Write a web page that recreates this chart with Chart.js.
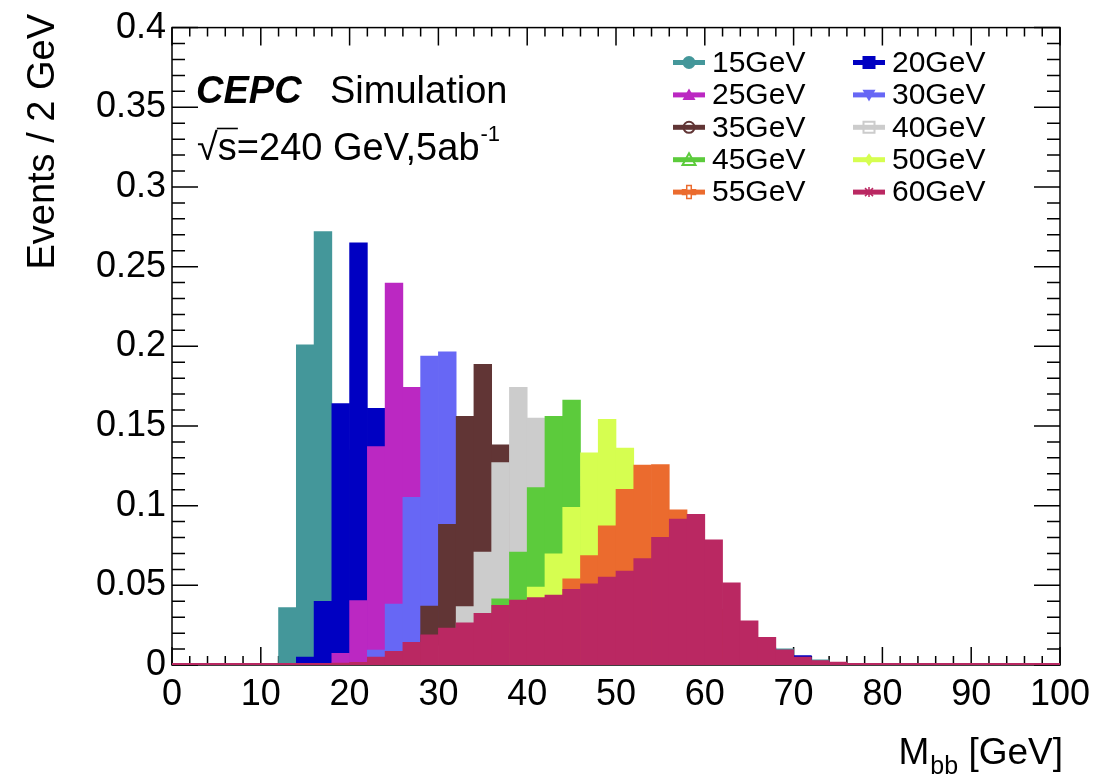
<!DOCTYPE html>
<html>
<head>
<meta charset="utf-8">
<script src="https://cdn.jsdelivr.net/npm/chart.js@4.4.1/dist/chart.umd.min.js"></script>
<style>
  html, body { margin: 0; padding: 0; background: #ffffff; }
  #wrap { width: 1119px; height: 777px; }
</style>
</head>
<body>
<div id="wrap"><canvas id="c" width="1119" height="777"></canvas></div>
<script>
// 2 GeV bins from 0 to 100 GeV (bin centres)
const binCenters = [1, 3, 5, 7, 9, 11, 13, 15, 17, 19, 21, 23, 25, 27, 29, 31, 33, 35, 37, 39,
                    41, 43, 45, 47, 49, 51, 53, 55, 57, 59, 61, 63, 65, 67, 69, 71, 73, 75, 77, 79,
                    81, 83, 85, 87, 89, 91, 93, 95, 97, 99];

const xTicks = [0, 10, 20, 30, 40, 50, 60, 70, 80, 90, 100];
const yTicks = [0, 0.05, 0.1, 0.15, 0.2, 0.25, 0.3, 0.35, 0.4];

// Normalised M_bb distributions, one per scalar mass hypothesis
const m15 = [0, 0, 0, 0, 0, 0, 0.036, 0.201, 0.272, 0.135, 0.075, 0.035, 0.018, 0.013, 0.012, 0.012, 0.011, 0.012, 0.011, 0.011,
             0.011, 0.010, 0.011, 0.010, 0.010, 0.010, 0.010, 0.010, 0.010, 0.011, 0.010, 0.011, 0.011, 0.011, 0.0101, 0.0045, 0.0032, 0, 0, 0,
             0, 0, 0, 0, 0, 0, 0, 0, 0, 0];
const m20 = [0, 0, 0, 0, 0, 0, 0, 0.005, 0.040, 0.164, 0.265, 0.161, 0.095, 0.045, 0.022, 0.013, 0.012, 0.012, 0.011, 0.011,
             0.011, 0.011, 0.010, 0.010, 0.010, 0.010, 0.010, 0.010, 0.010, 0.010, 0.010, 0.010, 0.010, 0.010, 0.009, 0.0059, 0.002, 0, 0, 0,
             0, 0, 0, 0, 0, 0, 0, 0, 0, 0];
const m25 = [0, 0, 0, 0, 0, 0, 0, 0, 0, 0.0074, 0.0405, 0.137, 0.2397, 0.1742, 0.090, 0.045, 0.024, 0.014, 0.012, 0.011,
             0.011, 0.010, 0.010, 0.010, 0.010, 0.010, 0.010, 0.010, 0.009, 0.009, 0.009, 0.009, 0.009, 0.008, 0.006, 0.003, 0, 0, 0, 0,
             0, 0, 0, 0, 0, 0, 0, 0, 0, 0];
const m30 = [0, 0, 0, 0, 0, 0, 0, 0, 0, 0, 0, 0.0094, 0.0382, 0.1052, 0.1939, 0.1966, 0.125, 0.065, 0.032, 0.016,
             0.013, 0.012, 0.011, 0.011, 0.010, 0.010, 0.010, 0.010, 0.009, 0.009, 0.009, 0.009, 0.008, 0.008, 0.005, 0, 0, 0, 0, 0,
             0, 0, 0, 0, 0, 0, 0, 0, 0, 0];
const m35 = [0, 0, 0, 0, 0, 0, 0, 0, 0, 0, 0, 0, 0, 0.008, 0.037, 0.0882, 0.1561, 0.1887, 0.1382, 0.095,
             0.050, 0.025, 0.014, 0.012, 0.011, 0.011, 0.010, 0.010, 0.010, 0.009, 0.009, 0.009, 0.008, 0.008, 0.004, 0, 0, 0, 0, 0,
             0, 0, 0, 0, 0, 0, 0, 0, 0, 0];
const m40 = [0, 0, 0, 0, 0, 0, 0, 0, 0, 0, 0, 0, 0, 0, 0, 0.012, 0.0367, 0.0709, 0.127, 0.1742,
             0.1549, 0.105, 0.055, 0.027, 0.015, 0.012, 0.011, 0.011, 0.010, 0.010, 0.010, 0.009, 0.009, 0.008, 0.004, 0, 0, 0, 0, 0,
             0, 0, 0, 0, 0, 0, 0, 0, 0, 0];
const m45 = [0, 0, 0, 0, 0, 0, 0, 0, 0, 0, 0, 0, 0, 0, 0, 0, 0, 0.020, 0.0416, 0.0709,
             0.1114, 0.1561, 0.1663, 0.112, 0.062, 0.030, 0.016, 0.013, 0.012, 0.011, 0.010, 0.010, 0.009, 0.008, 0.004, 0, 0, 0, 0, 0,
             0, 0, 0, 0, 0, 0, 0, 0, 0, 0];
const m50 = [0, 0, 0, 0, 0, 0, 0, 0, 0, 0, 0, 0, 0, 0, 0, 0, 0, 0, 0, 0.026,
             0.0489, 0.0697, 0.099, 0.1331, 0.1541, 0.1362, 0.100, 0.060, 0.030, 0.016, 0.012, 0.010, 0.009, 0.008, 0.004, 0, 0, 0, 0, 0,
             0, 0, 0, 0, 0, 0, 0, 0, 0, 0];
const m55 = [0, 0, 0, 0, 0, 0, 0, 0, 0, 0, 0, 0, 0, 0, 0, 0, 0, 0, 0, 0,
             0, 0.030, 0.0541, 0.0687, 0.0874, 0.1102, 0.1254, 0.1258, 0.0974, 0.070, 0.035, 0.015, 0.008, 0.005, 0.003, 0, 0, 0, 0, 0,
             0, 0, 0, 0, 0, 0, 0, 0, 0, 0];
const m60 = [0.001, 0.001, 0.001, 0.001, 0.001, 0.001, 0.001, 0.001, 0.001, 0.0012, 0.0017, 0.0049, 0.0086, 0.0142, 0.019, 0.0232, 0.0265, 0.0325, 0.0375, 0.0408,
             0.0423, 0.0439, 0.0475, 0.051, 0.0552, 0.0589, 0.0668, 0.0801, 0.0915, 0.0946, 0.0786, 0.0516, 0.0277, 0.0173, 0.0095, 0.0049, 0.0028, 0.0018, 0.001, 0.001,
             0.001, 0.001, 0.001, 0.001, 0.001, 0.001, 0.001, 0.001, 0.001, 0.001];

const seriesNames  = ['15GeV', '20GeV', '25GeV', '30GeV', '35GeV', '40GeV', '45GeV', '50GeV', '55GeV', '60GeV'];
const seriesValues = [m15, m20, m25, m30, m35, m40, m45, m50, m55, m60];
const seriesColors = ['#44979a', '#0000c2', '#bb28c2', '#6767f5', '#613535',
                      '#cccccc', '#5ccb3c', '#d6fe50', '#eb6b2e', '#ba2862'];
const seriesMarkers = ['circle', 'square', 'triangleUp', 'triangleDown', 'openCircle',
                       'openSquare', 'openTriangle', 'diamond', 'openCross', 'star'];

const FONT = '"Liberation Sans", Arial, Helvetica, sans-serif';

// Frame with inward major/minor ticks on all four sides
const frameTicks = {
  id: 'frameTicks',
  beforeDatasetsDraw(chart) {
    const { ctx, chartArea: a, scales: { x, y } } = chart;
    ctx.save();
    ctx.strokeStyle = '#000';
    ctx.lineWidth = 1.5;
    ctx.strokeRect(a.left, a.top, a.right - a.left, a.bottom - a.top);
    ctx.beginPath();
    for (let k = 0; k <= 50; k++) {
      const px = x.getPixelForValue(k * 2);
      const len = (k % 5 === 0) ? 18 : 9;
      ctx.moveTo(px, a.bottom); ctx.lineTo(px, a.bottom - len);
      ctx.moveTo(px, a.top);    ctx.lineTo(px, a.top + len);
    }
    for (let k = 0; k <= 40; k++) {
      const py = y.getPixelForValue(k / 100);
      const len = (k % 5 === 0) ? 26 : 13;
      ctx.moveTo(a.left, py);  ctx.lineTo(a.left + len, py);
      ctx.moveTo(a.right, py); ctx.lineTo(a.right - len, py);
    }
    ctx.stroke();
    ctx.restore();
  }
};

function drawMarker(ctx, kind, cx, cy, color) {
  const r = 6.5;
  ctx.save();
  ctx.fillStyle = color;
  ctx.strokeStyle = color;
  ctx.lineWidth = 2;
  ctx.beginPath();
  switch (kind) {
    case 'circle':
      ctx.arc(cx, cy, r, 0, Math.PI * 2); ctx.fill(); break;
    case 'square':
      ctx.rect(cx - r, cy - r, 2 * r, 2 * r); ctx.fill(); break;
    case 'triangleUp':
      ctx.moveTo(cx, cy - r); ctx.lineTo(cx + r, cy + r * 0.8); ctx.lineTo(cx - r, cy + r * 0.8);
      ctx.closePath(); ctx.fill(); break;
    case 'triangleDown':
      ctx.moveTo(cx, cy + r); ctx.lineTo(cx + r, cy - r * 0.8); ctx.lineTo(cx - r, cy - r * 0.8);
      ctx.closePath(); ctx.fill(); break;
    case 'openCircle':
      ctx.arc(cx, cy, r - 1, 0, Math.PI * 2); ctx.stroke(); break;
    case 'openSquare':
      ctx.rect(cx - r + 1, cy - r + 1, 2 * r - 2, 2 * r - 2); ctx.stroke(); break;
    case 'openTriangle':
      ctx.moveTo(cx, cy - r); ctx.lineTo(cx + r, cy + r * 0.8); ctx.lineTo(cx - r, cy + r * 0.8);
      ctx.closePath(); ctx.stroke(); break;
    case 'diamond':
      ctx.moveTo(cx, cy - r); ctx.lineTo(cx + r * 0.7, cy); ctx.lineTo(cx, cy + r); ctx.lineTo(cx - r * 0.7, cy);
      ctx.closePath(); ctx.fill(); break;
    case 'openCross': {
      const w = r * 0.35;
      ctx.moveTo(cx - w, cy - r); ctx.lineTo(cx + w, cy - r); ctx.lineTo(cx + w, cy - w);
      ctx.lineTo(cx + r, cy - w); ctx.lineTo(cx + r, cy + w); ctx.lineTo(cx + w, cy + w);
      ctx.lineTo(cx + w, cy + r); ctx.lineTo(cx - w, cy + r); ctx.lineTo(cx - w, cy + w);
      ctx.lineTo(cx - r, cy + w); ctx.lineTo(cx - r, cy - w); ctx.lineTo(cx - w, cy - w);
      ctx.closePath(); ctx.lineWidth = 1.5; ctx.stroke(); break;
    }
    case 'star':
      ctx.lineWidth = 1.5;
      ctx.moveTo(cx - 4, cy - 4); ctx.lineTo(cx + 4, cy + 4);
      ctx.moveTo(cx + 4, cy - 4); ctx.lineTo(cx - 4, cy + 4);
      ctx.moveTo(cx, cy - 5); ctx.lineTo(cx, cy + 5);
      ctx.stroke(); break;
  }
  ctx.restore();
}

// Legend, experiment label and axis titles
const overlay = {
  id: 'overlay',
  afterDraw(chart) {
    const { ctx } = chart;
    ctx.save();
    ctx.fillStyle = '#000';

    // legend: two columns, line sample + marker + label
    ctx.font = '30px ' + FONT;
    ctx.textBaseline = 'middle';
    ctx.textAlign = 'left';
    seriesNames.forEach((name, i) => {
      const col = i % 2, row = Math.floor(i / 2);
      const x0 = col === 0 ? 673 : 853;
      const yc = 62.5 + row * 32.4;
      ctx.strokeStyle = seriesColors[i];
      ctx.lineWidth = 5;
      ctx.beginPath(); ctx.moveTo(x0, yc); ctx.lineTo(x0 + 32, yc); ctx.stroke();
      drawMarker(ctx, seriesMarkers[i], x0 + 16, yc, seriesColors[i]);
      ctx.fillStyle = '#000';
      ctx.fillText(name, x0 + 39, yc + 1);
    });

    // experiment label
    ctx.textBaseline = 'alphabetic';
    ctx.font = 'italic bold 38px ' + FONT;
    ctx.fillText('CEPC', 196, 103);
    ctx.font = '38px ' + FONT;
    ctx.fillText('Simulation', 330, 103);

    // centre-of-mass energy and luminosity
    const lumi = '\u221As=240 GeV,5ab';
    ctx.font = '38px ' + FONT;
    ctx.fillText(lumi, 197, 160);
    const wRad = ctx.measureText('\u221A').width;
    const wS = ctx.measureText('\u221As').width;
    const wAll = ctx.measureText(lumi).width;
    ctx.strokeStyle = '#000';
    ctx.lineWidth = 1.6;
    ctx.beginPath(); ctx.moveTo(197 + wRad - 1, 128.5); ctx.lineTo(197 + wS + 1, 128.5); ctx.stroke();
    ctx.font = '22px ' + FONT;
    ctx.fillText('-1', 197 + wAll + 1, 141);

    // y-axis title, right-aligned to the top of the axis
    ctx.save();
    ctx.translate(54, 14);
    ctx.rotate(-Math.PI / 2);
    ctx.font = '38px ' + FONT;
    ctx.textAlign = 'right';
    ctx.textBaseline = 'alphabetic';
    ctx.fillText('Events / 2 GeV', 0, 0);
    ctx.restore();

    // x-axis title with subscript, right-aligned to the end of the axis
    ctx.textAlign = 'left';
    ctx.font = '37px ' + FONT;
    const wUnit = ctx.measureText(' [GeV]').width;
    const wM = ctx.measureText('M').width;
    ctx.font = '25px ' + FONT;
    const wSub = ctx.measureText('bb').width;
    const xEnd = 1063;
    const xUnit = xEnd - wUnit;
    const xSub = xUnit - wSub;
    const xM = xSub - wM - 1;
    ctx.font = '37px ' + FONT;
    ctx.fillText('M', xM, 764);
    ctx.fillText(' [GeV]', xUnit, 764);
    ctx.font = '25px ' + FONT;
    ctx.fillText('bb', xSub, 774);

    ctx.restore();
  }
};

const datasets = seriesValues.map((vals, i) => ({
  label: seriesNames[i],
  data: vals.map((v, j) => ({ x: binCenters[j], y: v })),
  backgroundColor: seriesColors[i],
  borderWidth: 0,
  grouped: false,
  barPercentage: 1.0,
  categoryPercentage: 1.0,
  order: seriesNames.length - i   // heavier mass points are drawn in front
}));

new Chart(document.getElementById('c'), {
  type: 'bar',
  data: { datasets },
  options: {
    responsive: false,
    animation: false,
    devicePixelRatio: 1,
    layout: { padding: { left: 0, right: 59, top: 22, bottom: 0 } },
    plugins: { legend: { display: false }, tooltip: { enabled: false }, title: { display: false } },
    scales: {
      x: {
        type: 'linear',
        offset: false,
        min: 0, max: 100,
        grid: { display: false, drawTicks: false, offset: false },
        border: { display: false },
        afterBuildTicks: (s) => { s.ticks = xTicks.map(v => ({ value: v })); },
        ticks: {
          color: '#000', padding: 8, maxRotation: 0, autoSkip: false,
          font: { family: FONT, size: 36 },
          callback: (v) => String(v)
        },
        afterFit: (s) => { s.height = 112; }
      },
      y: {
        min: 0, max: 0.4,
        grid: { display: false, drawTicks: false },
        border: { display: false },
        afterBuildTicks: (s) => { s.ticks = yTicks.map(v => ({ value: v })); },
        ticks: {
          color: '#000', padding: 6,
          font: { family: FONT, size: 36 },
          callback: (v) => String(Number(v.toFixed(2)))
        },
        afterFit: (s) => { s.width = 172; }
      }
    }
  },
  plugins: [frameTicks, overlay]
});
</script>
</body>
</html>
